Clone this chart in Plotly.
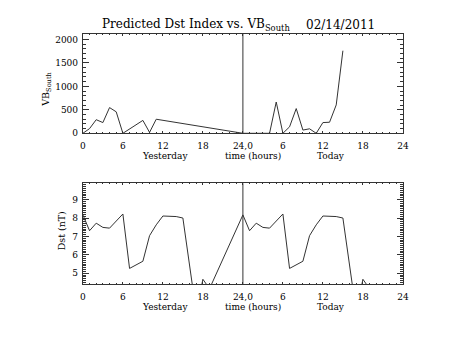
import plotly.graph_objects as go

W, H = 453, 340
FONT = "DejaVu Serif"
INK = "#333333"

# Hourly solar-wind VB_south (yesterday hours 0-11, then today hours 0-15)
vb_hours_yesterday = [0, 1, 2, 3, 4, 5, 6, 7, 8, 9, 10, 11]
vb_yesterday = [0, 100, 290, 229, 548, 458, 0, 95, 190, 275, 20, 300]
vb_hours_today = [0, 1, 2, 3, 4, 5, 6, 7, 8, 9, 10, 11, 12, 13, 14, 15]
vb_today = [0, 0, 0, 0, 0, 667, 0, 138, 527, 69, 96, 0, 229, 236, 605, 1760]

# Predicted Dst (nT)
dst_hours_yesterday = [0, 1, 2, 3, 4, 5, 6, 7, 8, 9, 10, 11, 12, 13, 14, 15, 17, 18, 19]
dst_yesterday = [8.17, 7.31, 7.72, 7.49, 7.45, 7.83, 8.22, 5.26, 5.45, 5.65,
                 7.04, 7.63, 8.11, 8.11, 8.08, 8.00, 2.87, 4.67, 4.16]
dst_hours_today = [0, 1, 2, 3, 4, 5, 6, 7, 8, 9, 10, 11, 12, 13, 14, 15, 17, 18, 19]
dst_today = [8.17, 7.31, 7.72, 7.49, 7.45, 7.83, 8.22, 5.26, 5.45, 5.65,
             7.04, 7.63, 8.11, 8.11, 8.08, 8.00, 2.87, 4.67, 4.16]

day_tick_labels = {"24": "24,0", "30": "6", "36": "12", "42": "18", "48": "24"}
title_text = "Predicted Dst Index vs. VB<sub>South</sub>"
date_text = "02/14/2011"


def px(x):
    return x / W


def py(y):
    return 1 - y / H


def two_day(hours_a, hours_b):
    return list(hours_a) + [24 + h for h in hours_b]


fig = go.Figure()
fig.add_trace(go.Scatter(
    x=two_day(vb_hours_yesterday, vb_hours_today), y=vb_yesterday + vb_today,
    mode="lines", line=dict(color=INK, width=1), xaxis="x", yaxis="y",
    showlegend=False, hoverinfo="skip"))
fig.add_trace(go.Scatter(
    x=two_day(dst_hours_yesterday, dst_hours_today), y=dst_yesterday + dst_today,
    mode="lines", line=dict(color=INK, width=1), xaxis="x2", yaxis="y2",
    showlegend=False, hoverinfo="skip"))

tickfont = dict(family=FONT, size=9, color="black")
xdom = [px(81.5), px(408)]


def xaxis(anchor):
    return dict(
        domain=xdom, anchor=anchor, range=[0, 48],
        tickmode="linear", tick0=0, dtick=6, labelalias=day_tick_labels,
        ticks="inside", ticklen=2, tickwidth=1, tickcolor=INK,
        minor=dict(ticks="inside", tickmode="linear", tick0=0, dtick=1,
                   ticklen=1, tickcolor=INK),
        showline=True, linecolor=INK, linewidth=1, mirror="allticks",
        showgrid=False, zeroline=False, tickfont=tickfont,
        ticklabelstandoff=4, fixedrange=True)


def yaxis(anchor, dom, rng, dtick, minor_dtick):
    return dict(
        domain=dom, anchor=anchor, range=rng,
        tickmode="linear", tick0=0, dtick=dtick,
        ticks="inside", ticklen=6, tickwidth=1, tickcolor=INK,
        minor=dict(ticks="inside", tickmode="linear", tick0=0, dtick=minor_dtick,
                   ticklen=3, tickcolor=INK),
        showline=True, linecolor=INK, linewidth=1, mirror="allticks",
        showgrid=False, zeroline=False, tickfont=tickfont,
        ticklabelstandoff=2, fixedrange=True)


fig.update_layout(
    width=W, height=H, margin=dict(l=0, r=0, t=0, b=0),
    paper_bgcolor="white", plot_bgcolor="white",
    xaxis=xaxis("y"),
    yaxis=yaxis("x", [py(135.3), py(34.3)], [0, 2120], 500, 100),
    xaxis2=xaxis("y2"),
    yaxis2=yaxis("x2", [py(288.3), py(186)], [4.41, 9.89], 1, 0.1),
)

# separator between yesterday and today
for xr, yr in (("x", "y domain"), ("x2", "y2 domain")):
    fig.add_shape(type="line", xref=xr, yref=yr, x0=24, x1=24, y0=0, y1=1,
                  line=dict(color=INK, width=1))

ann = []
ann.append(dict(text=title_text, x=px(99), y=py(25), xanchor="left", yanchor="middle",
                font=dict(family=FONT, size=12, color="black")))
ann.append(dict(text=date_text, x=px(307), y=py(25), xanchor="left", yanchor="middle",
                font=dict(family=FONT, size=12, color="black")))
for base in (158.8, 311.8):
    for label, cx in (("Yesterday", 165.5), ("time (hours)", 255), ("Today", 334.3)):
        ann.append(dict(text=label, x=px(cx), y=py(base), xanchor="center", yanchor="middle",
                        font=dict(family=FONT, size=9, color="black")))
ann.append(dict(text="VB<sub>South</sub>", x=px(45), y=py(91), textangle=-90,
                xanchor="center", yanchor="middle",
                font=dict(family=FONT, size=9.5, color="black")))
ann.append(dict(text="Dst (nT)", x=px(60), y=py(234), textangle=-90,
                xanchor="center", yanchor="middle",
                font=dict(family=FONT, size=9.5, color="black")))
for a in ann:
    a.update(xref="paper", yref="paper", showarrow=False)
fig.update_layout(annotations=ann)

fig.write_html("out.html")
